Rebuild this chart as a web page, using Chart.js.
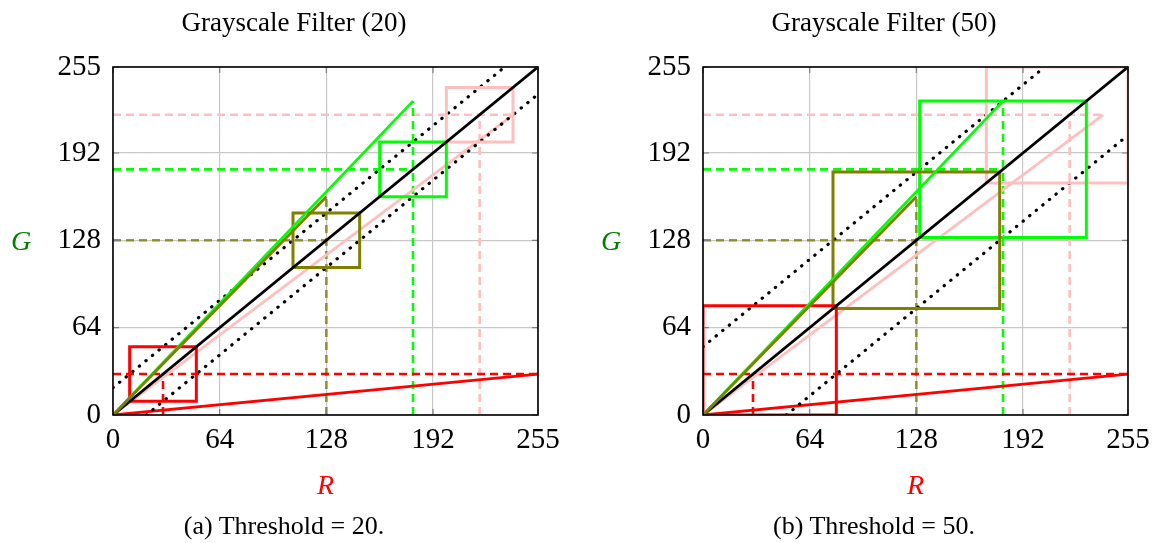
<!DOCTYPE html>
<html>
<head>
<meta charset="utf-8">
<script src="https://cdn.jsdelivr.net/npm/chart.js@4.4.1/dist/chart.umd.min.js"></script>
<style>
  html, body { margin: 0; padding: 0; background: #fff; }
  body { width: 1159px; height: 543px; position: relative; overflow: hidden; font-family: "Liberation Serif", "DejaVu Serif", serif; }
  .panel { position: absolute; top: 0; height: 543px; }
  .title, .caption { position: absolute; white-space: nowrap; line-height: 1; transform: translateX(-50%); color: #000; }
  .title { font-size: 27px; top: 9px; }
  .caption { font-size: 26px; top: 513px; }
</style>
</head>
<body>
<div class="panel" style="left:0;width:580px"><canvas id="c0" width="580" height="543"></canvas></div>
<div class="panel" style="left:590px;width:569px"><canvas id="c1" width="569" height="543"></canvas></div>
<div class="title" id="t0" style="left:294px"></div>
<div class="title" id="t1" style="left:884px"></div>
<div class="caption" id="s0" style="left:284px"></div>
<div class="caption" id="s1" style="left:874px"></div>
<script>
// Дані
const tickValues = [0, 64, 128, 192, 255];
const panelTitles = ['Grayscale Filter (20)', 'Grayscale Filter (50)'];
const panelCaptions = ['(a) Threshold = 20.', '(b) Threshold = 50.'];

// вектори кольорів від початку координат, кінцева точка (R, G)
const vectorNames = ['red', 'olive', 'green', 'pink'];
const vectorR = [255, 128, 180, 240];
const vectorG = [30, 160, 230, 220];
// рівень сірого, який показують пунктирні лінії
const grayLevel = [30, 128, 180, 220];

// рамки порогу (той самий порядок), нижній і верхній кут
const boxLow = [[10, 108, 160, 200], [0, 78, 130, 170]];
const boxHigh = [[50, 148, 200, 240], [80, 178, 230, 255]];

// межі смуги (крапки): R0, G0, R1, G1
const bandUpper = [[0, 20, 235, 255], [0, 50, 205, 255]];
const bandLower = [[20, 0, 255, 235], [50, 0, 255, 205]];

const palette = { red: '#ff0000', olive: '#808000', green: '#00ff00', pink: '#ffbfbf' };
const serif = '"Liberation Serif", "DejaVu Serif", serif';

function seg(points, color, width, dash, order, cap) {
    return {
        data: points.map(p => ({ x: p[0], y: p[1] })),
        showLine: true,
        borderColor: color,
        borderWidth: width,
        borderDash: dash || [],
        borderCapStyle: cap || 'butt',
        borderJoinStyle: 'miter',
        pointRadius: 0,
        pointHoverRadius: 0,
        fill: false,
        tension: 0,
        order: order
    };
}

function buildDatasets(k) {
    const ds = [];
    // вектори (оливковий і зелений зверху)
    vectorNames.forEach((name, i) => {
        const order = name === 'olive' ? 1 : name === 'green' ? 2 : name === 'red' ? 7 : 10;
        ds.push(seg([[0, 0], [vectorR[i], vectorG[i]]], palette[name], 2.8, null, order));
    });
    // діагональ
    ds.push(seg([[0, 0], [255, 255]], '#000', 2.8, null, 3));
    // рамки
    vectorNames.forEach((name, i) => {
        const lo = boxLow[k][i], hi = boxHigh[k][i];
        ds.push(seg([[lo, lo], [hi, lo], [hi, hi], [lo, hi], [lo, lo]], palette[name], 3, null, 4));
    });
    // смуга порогу
    [bandUpper[k], bandLower[k]].forEach(b => {
        ds.push(seg([[b[0], b[1]], [b[2], b[3]]], '#000', 3.2, [0.3, 8.2], 5, 'round'));
    });
    // пунктирні напрямні
    vectorNames.forEach((name, i) => {
        const c = name === 'olive' ? 'rgba(128,128,0,0.8)' : palette[name];
        ds.push(seg([[0, grayLevel[i]], [vectorR[i], grayLevel[i]]], c, 2.6, [8, 5], 12));
        ds.push(seg([[grayLevel[i], 0], [grayLevel[i], vectorG[i]]], c, 2.6, [8, 5], 12));
    });
    return ds;
}

const frame = {
    id: 'frame',
    afterDatasetsDraw(chart) {
        const { ctx, chartArea: a, scales: { x, y } } = chart;
        ctx.save();
        ctx.strokeStyle = '#808080';
        ctx.lineWidth = 1.2;
        ctx.beginPath();
        tickValues.forEach(v => {
            const px = x.getPixelForValue(v), py = y.getPixelForValue(v);
            ctx.moveTo(px, a.bottom); ctx.lineTo(px, a.bottom - 6);
            ctx.moveTo(px, a.top); ctx.lineTo(px, a.top + 6);
            ctx.moveTo(a.left, py); ctx.lineTo(a.left + 6, py);
            ctx.moveTo(a.right, py); ctx.lineTo(a.right - 6, py);
        });
        ctx.stroke();
        ctx.strokeStyle = '#000';
        ctx.lineWidth = 1.6;
        ctx.strokeRect(a.left, a.top, a.right - a.left, a.bottom - a.top);
        ctx.fillStyle = '#008000';
        ctx.font = 'italic 28px ' + serif;
        ctx.textAlign = 'center';
        ctx.textBaseline = 'middle';
        ctx.fillText('G', a.left - 92, (a.top + a.bottom) / 2 + 2);
        ctx.restore();
    }
};

function makeChart(k) {
    const tickFont = { family: serif, size: 29 };
    return new Chart(document.getElementById('c' + k), {
        type: 'scatter',
        data: { datasets: buildDatasets(k) },
        options: {
            responsive: false,
            animation: false,
            events: [],
            layout: { padding: { left: 0, right: k === 0 ? 42 : 31, top: 67, bottom: 40 } },
            plugins: { legend: { display: false }, tooltip: { enabled: false } },
            scales: {
                x: {
                    type: 'linear', min: 0, max: 255,
                    afterBuildTicks: s => { s.ticks = tickValues.map(v => ({ value: v })); },
                    afterFit: s => { s.height = 88; },
                    ticks: { font: tickFont, color: '#000', padding: 8, maxRotation: 0, autoSkip: false },
                    grid: { color: '#c8c8c8', lineWidth: 1.2, drawTicks: false },
                    border: { display: false },
                    title: { display: true, text: 'R', color: '#ff0000', font: { family: serif, size: 28, style: 'italic' }, padding: { top: 0, bottom: 0 } }
                },
                y: {
                    type: 'linear', min: 0, max: 255,
                    afterBuildTicks: s => { s.ticks = tickValues.map(v => ({ value: v })); },
                    afterFit: s => { s.width = 113; },
                    ticks: { font: tickFont, color: '#000', padding: 12, autoSkip: false },
                    grid: { color: '#c8c8c8', lineWidth: 1.2, drawTicks: false },
                    border: { display: false }
                }
            }
        },
        plugins: [frame]
    });
}

[0, 1].forEach(k => {
    document.getElementById('t' + k).textContent = panelTitles[k];
    document.getElementById('s' + k).textContent = panelCaptions[k];
    makeChart(k);
});
</script>
</body>
</html>
